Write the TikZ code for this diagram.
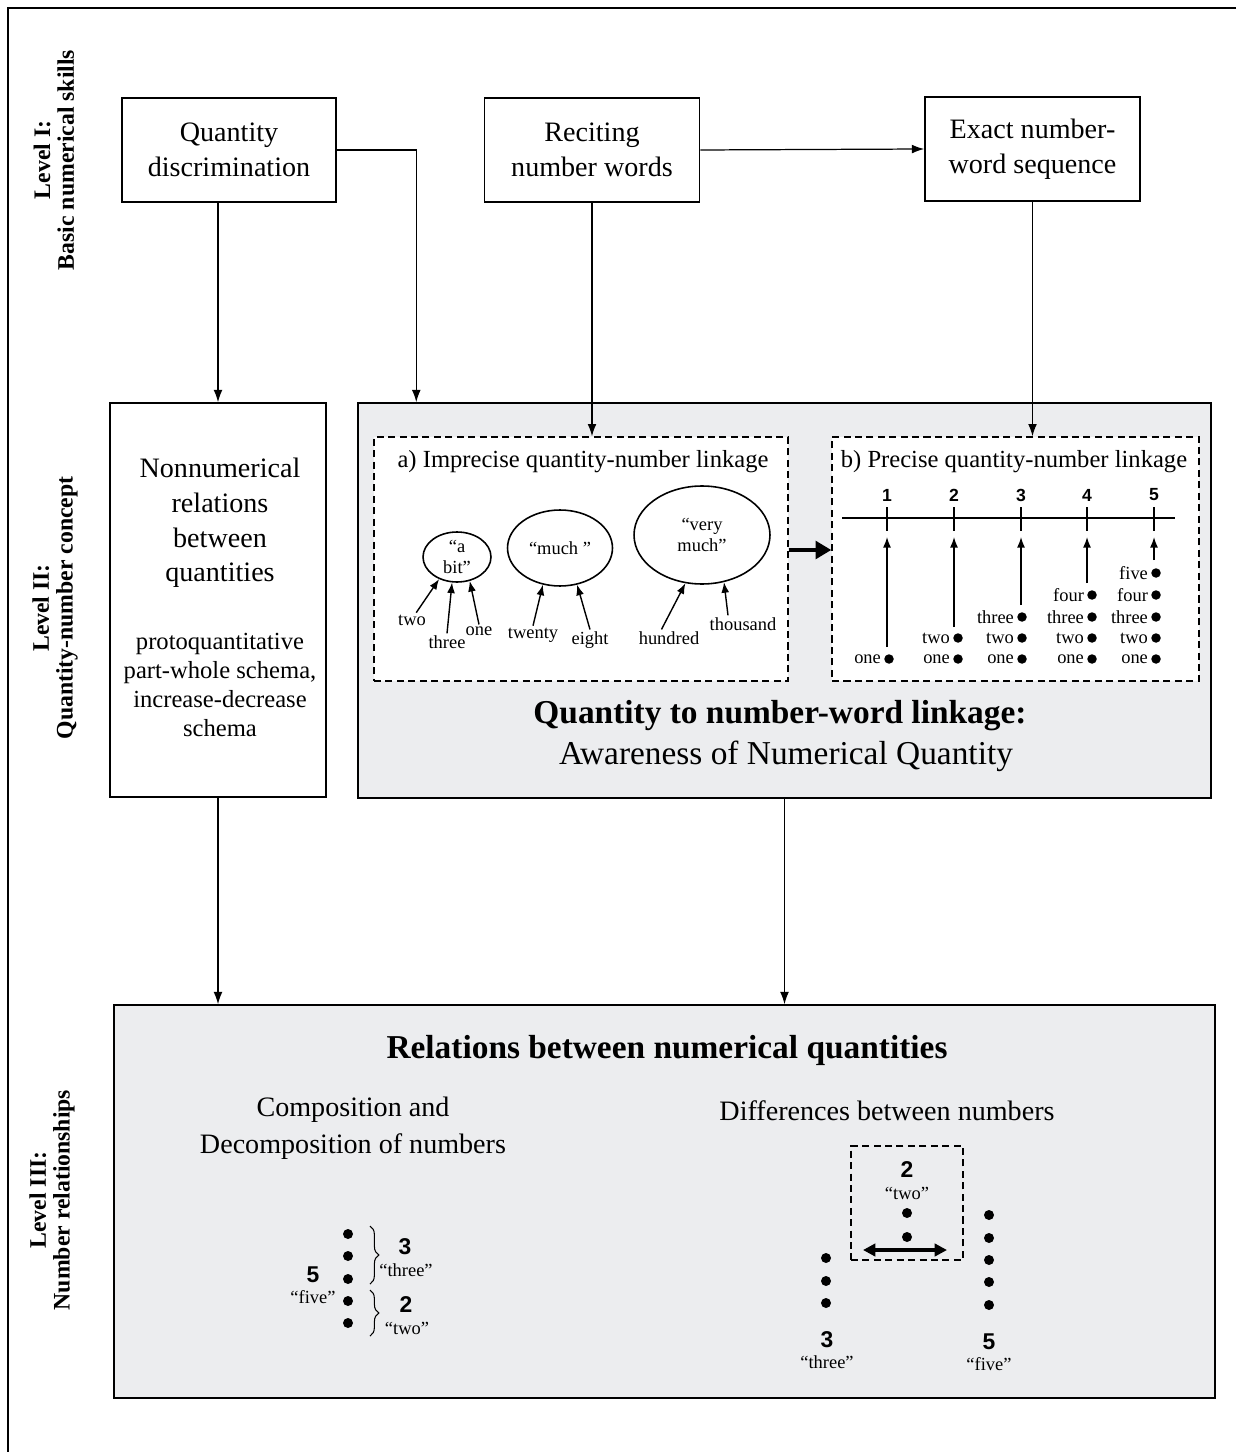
\documentclass[tikz,border=0pt]{standalone}
\usepackage{fontspec}
\setmainfont{Liberation Serif}
\newfontfamily\numfont{Liberation Sans}
\usetikzlibrary{arrows.meta}
\usetikzlibrary{shapes.geometric}
\usetikzlibrary{decorations.pathreplacing}
\definecolor{panelgray}{RGB}{236,237,239}
\tikzset{
  box/.style={draw, line width=0.9pt, align=center, inner sep=0pt},
  skill/.style={box, fill=white, minimum width=4.3cm, minimum height=2.08cm, font=\fontsize{16}{20}\selectfont},
  dashbox/.style={draw, line width=0.8pt, dash pattern=on 4pt off 2.5pt, inner sep=0pt},
  bubble/.style={draw, ellipse, line width=0.9pt, inner sep=0pt, align=center, font=\fontsize{10.5}{11.5}\selectfont},
  word/.style={inner sep=1pt, font=\fontsize{10.5}{12}\selectfont},
  quote/.style={inner sep=0pt, font=\fontsize{10.5}{12}\selectfont},
  bignum/.style={inner sep=0pt, font=\numfont\bfseries\fontsize{13}{15}\selectfont},
  lvl/.style={rotate=90, align=center, font=\bfseries\fontsize{13.5}{13.5}\selectfont},
  link/.style={-{Latex[length=7pt,width=5pt]}, line width=0.7pt},
  small/.style={-{Latex[length=6pt,width=4.5pt]}, line width=0.8pt}
}
\begin{document}
\begin{tikzpicture}[x=0.02cm, y=-0.02cm]
\useasboundingbox (0,0) rectangle (1236,1452);
\draw[line width=0.8pt] (1236,8) -- (8,8) -- (8,1452);

\node[lvl] (lvlone) at (54,160) {Level I:\\Basic numerical skills};
\node[lvl] (lvltwo) at (55,608) {Level II:\\Quantity-number concept};
\node[lvl] (lvlthree) at (52,1200) {Level III:\\Number relationships};

\node[skill, minimum width=4.28cm] (qd) at (229,150) {Quantity\\discrimination};
\node[skill] (rec) at (592,150) {Reciting\\number words};
\node[skill] (exact) at (1032.5,149) {Exact number-\\word sequence};

\node[box, fill=white, minimum width=4.32cm, minimum height=7.88cm] (nonnum) at (218,600) {};
\node[align=center, font=\fontsize{16}{19.8}\selectfont] (nonnumhead) at (220,523) {Nonnumerical\\relations\\between\\quantities};
\node[align=center, font=\fontsize{14}{16.5}\selectfont] (nonnumsub) at (220,685) {protoquantitative\\part-whole schema,\\increase-decrease\\schema};

\node[box, fill=panelgray, minimum width=17.06cm, minimum height=7.9cm] (link) at (784.5,600.5) {};
\node[dashbox, fill=white, minimum width=8.28cm, minimum height=4.88cm] (pa) at (581,559) {};
\node[dashbox, fill=white, minimum width=7.34cm, minimum height=4.88cm] (pb) at (1015.5,559) {};
\node[font=\fontsize{14}{17}\selectfont] (patitle) at (583,462) {a) Imprecise quantity-number linkage};
\node[font=\fontsize{14}{17}\selectfont] (pbtitle) at (1014,462) {b) Precise quantity-number linkage};
\node[font=\bfseries\fontsize{19}{22}\selectfont] (linktitle) at (780,716) {Quantity to number-word linkage:};
\node[font=\fontsize{19}{22}\selectfont] (linksub) at (786,756) {Awareness of Numerical Quantity};

\node[bubble, minimum width=1.36cm, minimum height=1.0cm] (abit) at (457,557) {“a\\bit”};
\node[bubble, minimum width=2.1cm, minimum height=1.52cm] (much) at (560,548) {“much ”};
\node[bubble, minimum width=2.72cm, minimum height=1.96cm] (vmuch) at (702,535) {“very\\much”};
\node[word] (wtwo) at (412,620) {two};
\node[word] (wthree) at (447,642) {three};
\node[word] (wone) at (479,631) {one};
\node[word] (wtwenty) at (533,635) {twenty};
\node[word] (weight) at (590,640) {eight};
\node[word] (whundred) at (669,638) {hundred};
\node[word] (wthousand) at (743,624) {thousand};
\draw[small] (wtwo.60) -- (abit.231);
\draw[small] (wthree.north) -- (abit.259);
\draw[small] (wone.north) -- (abit.298);
\draw[small] (wtwenty.north) -- (much.245);
\draw[small] (weight.north) -- (much.295);
\draw[small] ([xshift=-0.15cm]whundred.north) -- (vmuch.251);
\draw[small] ([xshift=-0.3cm]wthousand.north) -- (vmuch.295);

\draw[-{Triangle[length=9pt,width=10pt]}, line width=2.8pt] ([yshift=0.18cm]pa.east) -- ([yshift=0.18cm]pb.west);

\coordinate (nlstart) at (842,518);
\coordinate (nlend) at (1175,518);
\draw[line width=0.8pt] (nlstart) -- (nlend);
\foreach \n/\x/\b in {1/887/647, 2/954/627, 3/1021/605, 4/1087/583, 5/1154/560} {
  \node[inner sep=0pt, font=\numfont\bfseries\fontsize{10}{12}\selectfont] (num\n) at (\x,495) {\n};
  \draw[line width=0.8pt] (\x,507) -- (\x,531);
  \coordinate (tip\n) at (\x,537);
  \coordinate (foot\n) at (\x,\b);
  \draw[small] (foot\n) -- (tip\n);
}
\foreach \c/\dx in {1/889, 2/958, 3/1022, 4/1092, 5/1156} {
  \foreach \r/\w/\dy in {1/one/659, 2/two/638, 3/three/617, 4/four/595, 5/five/573} {
    \ifnum\r>\c\else
      \fill (\dx,\dy) circle (0.095cm);
      \node[word, anchor=east] (w\c\r) at (\dx-6,\dy) {\w};
    \fi
  }
}

\node[box, fill=panelgray, minimum width=22.02cm, minimum height=7.86cm] (rel) at (664.5,1201.5) {};
\node[font=\bfseries\fontsize{19}{22}\selectfont] (reltitle) at (667,1050) {Relations between numerical quantities};
\node[align=center, font=\fontsize{16}{21}\selectfont] (comp) at (353,1128) {Composition and\\Decomposition of numbers};
\node[font=\fontsize{16}{20}\selectfont] (diff) at (887,1111) {Differences between numbers};

\foreach \y in {1234,1256,1279,1301,1323} \fill (348,\y) circle (0.1cm);
\draw[decorate, decoration={brace, amplitude=5pt}, line width=0.6pt] (370,1226) -- (370,1284);
\draw[decorate, decoration={brace, amplitude=5pt}, line width=0.6pt] (370,1290) -- (370,1336);
\node[bignum] (cthree) at (405,1247) {3};
\node[quote] (cthreeq) at (406,1270) {“three”};
\node[bignum] (ctwo) at (406,1305) {2};
\node[quote] (ctwoq) at (407,1328) {“two”};
\node[bignum] (cfive) at (313,1275) {5};
\node[quote] (cfiveq) at (313,1297) {“five”};

\node[dashbox, minimum width=2.24cm, minimum height=2.28cm] (gap) at (907,1203) {};
\node[bignum] (dtwo) at (907,1170) {2};
\node[quote] (dtwoq) at (907,1193) {“two”};
\fill (907,1213) circle (0.1cm);
\fill (907,1237) circle (0.1cm);
\coordinate (gapl) at (863,1250);
\coordinate (gapr) at (947,1250);
\draw[{Triangle[length=7pt,width=7pt]}-{Triangle[length=7pt,width=7pt]}, line width=1.8pt] (gapl) -- (gapr);
\foreach \y in {1258,1281,1303} \fill (826,\y) circle (0.1cm);
\foreach \y in {1215,1238,1260,1282,1305} \fill (989,\y) circle (0.1cm);
\node[bignum] (dthree) at (827,1340) {3};
\node[quote] (dthreeq) at (827,1362) {“three”};
\node[bignum] (dfive) at (989,1342) {5};
\node[quote] (dfiveq) at (989,1364) {“five”};

\coordinate (linkin) at ([xshift=1.18cm]link.north west);
\draw[link] (qd.south -| nonnum.north) -- (nonnum.north);
\draw[link] (qd.east) -| (linkin);
\draw[link] (rec.south) -- (rec.south |- pa.north);
\draw[link] (rec.east) -- (exact.west);
\draw[link] (exact.south) -- (exact.south |- pb.north);
\draw[link] (nonnum.south) -- (nonnum.south |- rel.north);
\draw[link] (link.south) -- (link.south |- rel.north);
\end{tikzpicture}
\end{document}
